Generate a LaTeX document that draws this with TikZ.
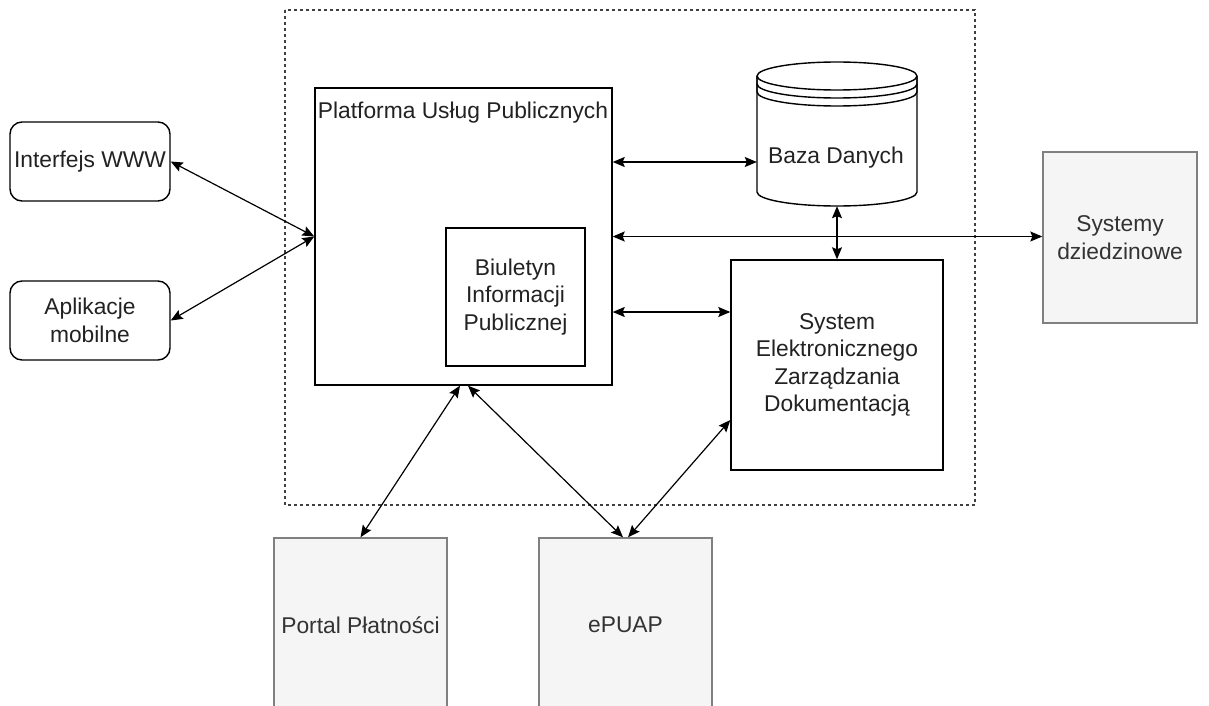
\documentclass[tikz,border=0pt]{standalone}
\usepackage{fontspec}
\setmainfont{Liberation Sans}
\usetikzlibrary{arrows.meta,calc}
\definecolor{grayfill}{HTML}{F5F5F5}
\definecolor{grayline}{HTML}{808080}
\definecolor{graytext}{HTML}{333333}
\definecolor{inktext}{HTML}{222222}
\begin{document}
\begin{tikzpicture}[x=1pt,y=-1pt,
  every node/.style={font=\fontsize{22.8}{27.5}\selectfont, align=center, inner sep=0pt, text=inktext},
  wbox/.style={draw=black, line width=1.4pt, fill=white},
  rbox/.style={wbox, rounded corners=12pt},
  gbox/.style={draw=grayline, line width=1.4pt, fill=grayfill, text=graytext},
  arr/.style={line width=1.2pt, {Stealth[length=12pt,width=10pt,inset=2pt]}-{Stealth[length=12pt,width=10pt,inset=2pt]}},
  zone/.style={draw=black!75, line width=1.3pt, dash pattern=on 3pt off 3pt}
]
\clip (0,0) rectangle (1209,706);
\fill[white] (0,0) rectangle (1209,706);

% dashed boundary
\draw[zone] (285,10) rectangle (975,505);

% Platforma
\node[wbox, minimum width=297pt, minimum height=297pt] (pup) at (463.5,236.5) {};
\node[anchor=center] (ptitle) at (463,113) {Platforma Usług Publicznych};
\node[wbox, minimum width=139pt, minimum height=138pt] (bip) at (515.5,297) {Biuletyn\\Informacji\\Publicznej};

% Database cylinder
\node[minimum width=160pt, minimum height=144pt] (db) at (837,134) {};
\draw[line width=1.4pt, fill=white]
  (757,76) -- (757,192) arc[start angle=180, end angle=360, x radius=80pt, y radius=14pt]
  -- (917,76) arc[start angle=0, end angle=180, x radius=80pt, y radius=14pt] -- cycle;
\draw[line width=1.4pt] (757,76) arc[start angle=180, end angle=360, x radius=80pt, y radius=14pt];
\draw[line width=1.4pt] (757,76) -- (757,84) arc[start angle=180, end angle=360, x radius=80pt, y radius=14pt] -- (917,76);
\draw[line width=1.4pt] (757,84) -- (757,92) arc[start angle=180, end angle=360, x radius=80pt, y radius=14pt] -- (917,84);
\node (dbtext) at (836,158) {Baza Danych};

% SEZD
\node[wbox, minimum width=212pt, minimum height=210pt] (sezd) at (837,365) {System\\Elektronicznego\\Zarządzania\\Dokumentacją};

% Systemy dziedzinowe
\node[gbox, minimum width=154pt, minimum height=171pt] (sys) at (1120,237.5) {Systemy\\dziedzinowe};

% left boxes
\node[rbox, minimum width=160pt, minimum height=79pt] (www) at (90,161.5) {Interfejs WWW};
\node[rbox, minimum width=160pt, minimum height=79pt] (app) at (90,320.5) {Aplikacje\\mobilne};

% bottom boxes
\node[gbox, minimum width=173pt, minimum height=174pt] (portal) at (360.5,625) {Portal Płatności};
\node[gbox, minimum width=173pt, minimum height=174pt] (epuap) at (625.5,625) {ePUAP};

% connector anchors
\coordinate (dbin) at ([yshift=-28pt]db.west);
\coordinate (sezdin) at ([yshift=53pt]sezd.west);
\coordinate (sezdlow) at ([yshift=-55pt]sezd.west);
\coordinate (pupbl) at ([xshift=-3.5pt]pup.south);
\coordinate (pupbr) at ([xshift=4.5pt]pup.south);
\coordinate (epl) at ([xshift=-2.5pt]epuap.north);
\coordinate (epr) at ([xshift=2.5pt]epuap.north);

% connectors
\draw[arr] (www.east) -- (pup.west);
\draw[arr] (app.east) -- (pup.west);
\draw[arr] (pup.east |- dbin) -- (dbin);
\draw[arr] (pup.east) -- (pup.east -| sys.west);
\draw[arr] (db.south) -- (sezd.north);
\draw[arr] (pup.east |- sezdin) -- (sezdin);
\draw[arr] (portal.north) -- (pupbl);
\draw[arr] (pupbr) -- (epl);
\draw[arr] (epr) -- (sezdlow);
\end{tikzpicture}
\end{document}
